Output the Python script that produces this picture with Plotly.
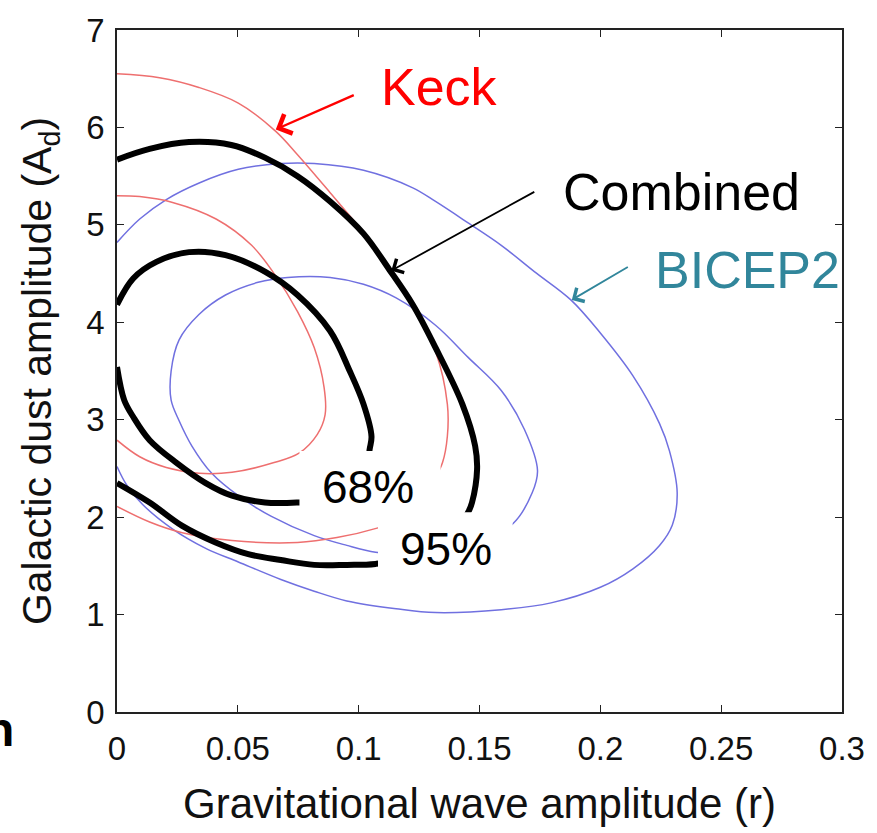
import plotly.graph_objects as go

# ---- data ----
keck95_r = [0, 0.0176, 0.0339, 0.0502, 0.0657, 0.0747, 0.0882, 0.102, 0.1127, 0.1224, 0.1318, 0.1367, 0.1367, 0.1347, 0.131, 0.125, 0.118, 0.108, 0.091, 0.0747, 0.0476, 0.027, 0.0135, 0]
keck95_A = [6.55, 6.51, 6.41, 6.25, 5.96, 5.72, 5.33, 4.92, 4.55, 4.16, 3.70, 3.16, 2.83, 2.56, 2.37, 2.10, 1.98, 1.89, 1.79, 1.74, 1.76, 1.84, 1.95, 2.11]

keck68_r = [0, 0.0094, 0.023, 0.041, 0.0557, 0.065, 0.0747, 0.0816, 0.0857, 0.0861, 0.0829, 0.0755, 0.065, 0.0476, 0.034, 0.0204, 0.0094, 0]
keck68_A = [5.30, 5.29, 5.23, 5.06, 4.79, 4.50, 4.11, 3.74, 3.33, 3.05, 2.85, 2.66, 2.56, 2.46, 2.45, 2.51, 2.62, 2.79]

bicep95_r = [0, 0.0094, 0.0204, 0.034, 0.0502, 0.0678, 0.0816, 0.102, 0.1224, 0.1318, 0.1453, 0.159, 0.1727, 0.1878, 0.200, 0.2135, 0.2245, 0.2286, 0.2318, 0.2298, 0.2245, 0.2135, 0.200, 0.1796, 0.159, 0.1318, 0.1155, 0.0951, 0.0816, 0.0678, 0.0502, 0.0367, 0.0229, 0.0106, 0.004, 0]
bicep95_A = [4.82, 5.06, 5.26, 5.43, 5.57, 5.63, 5.63, 5.56, 5.38, 5.24, 5.02, 4.79, 4.52, 4.23, 3.89, 3.45, 2.96, 2.68, 2.25, 1.92, 1.71, 1.47, 1.28, 1.12, 1.05, 1.02, 1.06, 1.14, 1.24, 1.36, 1.54, 1.68, 1.88, 2.13, 2.33, 2.52]

bicep68_r = [0.107, 0.0951, 0.0816, 0.0637, 0.0502, 0.0392, 0.031, 0.0257, 0.0224, 0.0224, 0.0257, 0.0339, 0.0449, 0.0584, 0.0706, 0.0882, 0.102, 0.1155, 0.1318, 0.1453, 0.159, 0.1686, 0.174, 0.1718, 0.1637, 0.150, 0.135, 0.120, 0.107]
bicep68_A = [1.64, 1.71, 1.81, 2.01, 2.22, 2.45, 2.73, 2.99, 3.20, 3.50, 3.82, 4.08, 4.28, 4.41, 4.46, 4.46, 4.39, 4.25, 3.97, 3.64, 3.30, 2.90, 2.48, 2.25, 1.93, 1.76, 1.66, 1.62, 1.64]

comb95_r = [0, 0.0135, 0.0298, 0.0473, 0.0612, 0.0747, 0.0882, 0.102, 0.1127, 0.1224, 0.1318, 0.1429, 0.1482, 0.149, 0.1469, 0.1453, 0.138, 0.125, 0.107, 0.0951, 0.0816, 0.0678, 0.0543, 0.0408, 0.027, 0.0135, 0]
comb95_A = [5.67, 5.78, 5.85, 5.82, 5.69, 5.50, 5.24, 4.91, 4.54, 4.18, 3.74, 3.16, 2.73, 2.49, 2.15, 2.05, 1.78, 1.60, 1.52, 1.51, 1.51, 1.56, 1.62, 1.74, 1.91, 2.15, 2.35]

comb68_r = [0, 0.0067, 0.0163, 0.0298, 0.0449, 0.0612, 0.0747, 0.0882, 0.0963, 0.102, 0.1053, 0.1045, 0.103, 0.095, 0.0747, 0.0612, 0.0476, 0.0367, 0.0245, 0.0135, 0.0067, 0.003, 0]
comb68_A = [4.18, 4.45, 4.62, 4.72, 4.69, 4.52, 4.28, 3.91, 3.50, 3.16, 2.83, 2.69, 2.40, 2.20, 2.15, 2.15, 2.22, 2.35, 2.56, 2.79, 3.03, 3.20, 3.54]

x_tickvals = [0, 0.05, 0.1, 0.15, 0.2, 0.25, 0.3]
x_ticktext = ["0", "0.05", "0.1", "0.15", "0.2", "0.25", "0.3"]
y_tickvals = [0, 1, 2, 3, 4, 5, 6, 7]
y_ticktext = ["0", "1", "2", "3", "4", "5", "6", "7"]

# label boxes (white patches behind the % labels), data coords
box68 = dict(x0=0.0755, x1=0.1339, y0=2.02, y1=2.68)
box95 = dict(x0=0.108, x1=0.1637, y0=1.29, y1=2.05)

RED = "#EE6F6F"
BLUE = "#7070E0"
TEAL = "#31869B"
FONT = "Liberation Sans, Arial, Helvetica, sans-serif"

fig = go.Figure()

def add_curve(x, y, color, width):
    fig.add_trace(go.Scatter(x=x, y=y, mode="lines", showlegend=False, hoverinfo="skip",
                             line=dict(color=color, width=width, shape="spline", smoothing=1.0)))

add_curve(bicep95_r, bicep95_A, BLUE, 1.5)
add_curve(bicep68_r, bicep68_A, BLUE, 1.5)
add_curve(keck95_r, keck95_A, RED, 1.5)
add_curve(keck68_r, keck68_A, RED, 1.5)
add_curve(comb95_r, comb95_A, "black", 6)
add_curve(comb68_r, comb68_A, "black", 6)

for b in (box68, box95):
    fig.add_shape(type="rect", xref="x", yref="y", layer="above",
                  fillcolor="white", line=dict(width=0), **b)

# text labels
labels = [
    ("Keck", 0.1334, 6.42, 52, "#FF0000"),
    ("Combined", 0.2335, 5.34, 52, "black"),
    ("BICEP2", 0.2610, 4.54, 52, TEAL),
    ("68%", 0.1040, 2.31, 46, "black"),
    ("95%", 0.1363, 1.67, 46, "black"),
]
for t, x, y, s, c in labels:
    fig.add_annotation(x=x, y=y, xref="x", yref="y", text=t, showarrow=False,
                       font=dict(family=FONT, size=s, color=c),
                       xanchor="center", yanchor="middle")

# arrows (head -> tail)
arrows = [
    (0.0657, 5.98, 0.0988, 6.34, "#FF0000", 2.4),
    (0.1135, 4.53, 0.1735, 5.35, "black", 1.8),
    (0.1882, 4.23, 0.2122, 4.58, TEAL, 1.8),
]
for x, y, ax, ay, c, w in arrows:
    fig.add_annotation(x=x, y=y, ax=ax, ay=ay, xref="x", yref="y", axref="x", ayref="y",
                       text=" ", showarrow=True, arrowhead=4, arrowsize=1.7,
                       arrowwidth=w, arrowcolor=c, font=dict(size=4))

fig.add_annotation(xref="paper", yref="paper", x=-0.139, y=-0.026, text="<b>n</b>",
                   showarrow=False, xanchor="right", yanchor="middle",
                   font=dict(family=FONT, size=48, color="black"))

axis_common = dict(showgrid=False, zeroline=False, showline=True, linecolor="#222",
                   linewidth=1.5, ticks="inside", ticklen=7, tickcolor="#222",
                   tickwidth=1.2, mirror="allticks")

fig.update_xaxes(range=[0, 0.3], tickvals=x_tickvals, ticktext=x_ticktext,
                 tickfont=dict(family=FONT, size=33, color="#111"),
                 ticklabelstandoff=7,
                 title=dict(text="Gravitational wave amplitude (r)",
                            font=dict(family=FONT, size=42, color="#111"), standoff=22),
                 **axis_common)
fig.update_yaxes(range=[0, 7], tickvals=y_tickvals, ticktext=y_ticktext,
                 tickfont=dict(family=FONT, size=33, color="#111"),
                 ticklabelstandoff=4,
                 title=dict(text="Galactic dust amplitude (A<sub>d</sub><span style='font-size:41px'>)</span>",
                            font=dict(family=FONT, size=41, color="#111"), standoff=22),
                 **axis_common)

fig.update_layout(width=877, height=833, plot_bgcolor="white", paper_bgcolor="white",
                  margin=dict(l=117, r=26, t=22, b=121), showlegend=False)

fig.write_html("out.html")
